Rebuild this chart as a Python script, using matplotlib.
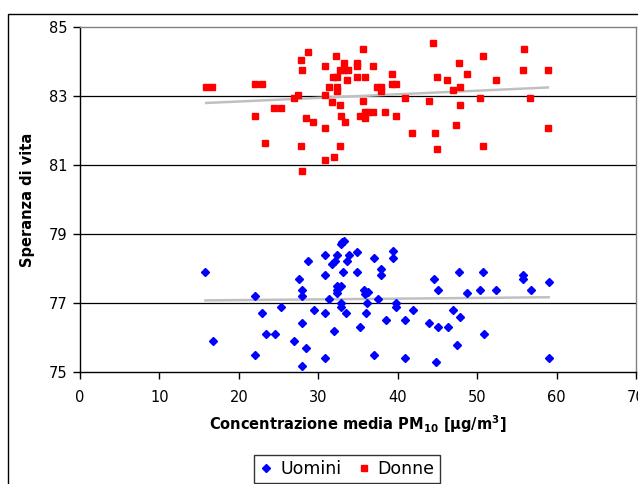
import numpy as np
import matplotlib
matplotlib.use("Agg")
import matplotlib.pyplot as plt
from matplotlib.lines import Line2D
from matplotlib.patches import Rectangle

# ============================================================
# Dati
# ============================================================
donne_x = [15.9, 16.6, 22.0, 22.9, 22.0, 23.3, 24.4, 25.3, 26.9, 27.5,
           27.8, 28.7, 28.0, 27.8, 28.0, 28.4, 29.3, 30.9, 30.9, 30.9,
           30.9, 31.4, 31.7, 31.8, 32.3, 32.2, 32.3, 32.3, 32.7, 31.95,
           32.7, 32.9, 33.4, 33.2, 32.7, 33.2, 33.8, 33.6, 34.9, 34.9,
           34.9, 35.2, 35.6, 35.9, 36.9, 39.3, 39.3, 39.8, 37.4, 37.9,
           37.9, 35.6, 35.9, 35.9, 36.3, 36.9, 38.4, 39.8, 40.9, 41.8,
           43.9, 44.5, 44.7, 45.0, 45.0, 46.2, 46.9, 47.4, 47.7, 47.9,
           47.9, 48.7, 50.3, 50.7, 50.8, 52.4, 55.8, 55.9, 56.7, 58.9,
           58.9]
donne_y = [83.26, 83.26, 83.35, 83.35, 82.43, 81.64, 82.65, 82.65, 82.94, 83.04,
           84.05, 84.27, 83.76, 81.55, 80.82, 82.35, 82.25, 83.86, 83.04, 82.06,
           81.14, 83.26, 82.84, 83.55, 83.55, 84.15, 83.26, 83.15, 81.55, 81.24,
           82.74, 82.43, 82.25, 83.95, 83.76, 83.76, 83.76, 83.45, 83.95, 83.86,
           83.55, 82.43, 84.36, 83.55, 83.86, 83.63, 83.35, 83.35, 83.26, 83.26,
           83.15, 82.85, 82.53, 82.35, 82.53, 82.53, 82.53, 82.43, 82.94, 81.93,
           82.85, 84.55, 81.93, 81.45, 83.55, 83.45, 83.17, 82.15, 83.95, 83.26,
           82.74, 83.63, 82.94, 84.15, 81.55, 83.45, 83.76, 84.36, 82.94, 83.76,
           82.06]

uomini_x = [15.8, 16.7, 22.0, 22.0, 22.96, 23.4, 24.5, 25.3, 27.0, 27.6,
            27.9, 28.0, 27.9, 28.0, 28.4, 28.7, 29.4, 30.9, 30.9, 30.9,
            30.9, 31.4, 31.7, 32.1, 32.3, 32.0, 32.4, 32.4, 32.4, 32.9,
            32.8, 32.8, 32.8, 33.0, 33.2, 33.1, 33.5, 33.6, 33.9, 34.9,
            34.9, 35.2, 35.7, 36.3, 35.9, 36.1, 36.0, 37.0, 37.0, 37.5,
            37.9, 37.9, 38.5, 39.4, 39.4, 39.8, 39.8, 40.9, 40.9, 41.9,
            43.9, 44.6, 45.1, 44.8, 45.1, 46.3, 46.9, 47.7, 47.9, 47.5,
            48.7, 50.4, 50.8, 50.9, 52.4, 55.8, 55.8, 56.8, 59.0, 59.0]
uomini_y = [77.90, 75.91, 77.20, 75.49, 76.70, 76.10, 76.10, 76.88, 75.91, 77.70,
            77.39, 77.20, 76.41, 75.17, 75.69, 78.22, 76.79, 78.40, 77.80, 76.70,
            75.41, 77.12, 78.13, 78.22, 78.40, 76.19, 77.48, 77.38, 77.29, 77.48,
            77.00, 76.88, 78.72, 78.77, 78.81, 77.90, 76.70, 78.22, 78.40, 78.49,
            77.90, 76.29, 77.38, 77.31, 77.25, 77.01, 76.70, 78.30, 75.49, 77.11,
            78.00, 77.80, 76.51, 78.50, 78.30, 77.00, 76.88, 76.51, 75.40, 76.79,
            76.41, 77.70, 77.39, 75.30, 76.29, 76.29, 76.79, 77.90, 76.60, 75.78,
            77.30, 77.39, 77.90, 76.10, 77.39, 77.80, 77.70, 77.39, 77.62, 75.40]

x_ticks = [0, 10, 20, 30, 40, 50, 60, 70]
y_ticks = [75, 77, 79, 81, 83, 85]


def trend(ax, xs, ys):
    xs = np.asarray(xs)
    ys = np.asarray(ys)
    m, q = np.polyfit(xs, ys, 1)
    xx = np.array([xs.min(), xs.max()])
    ax.plot(xx, m * xx + q, color="#c0c0c0", lw=1.8, zorder=2)


plt.rcParams["font.family"] = ["DejaVu Sans"]

fig = plt.figure(figsize=(6.38, 4.84), dpi=100)
ax = fig.add_axes([80 / 638, 1 - 372 / 484, 556 / 638, 345 / 484])

# bordo esterno dell'area del grafico
fig.patches.append(Rectangle((8 / 638, -0.1), 1.2, 1 - 14 / 484 + 0.1,
                             transform=fig.transFigure, fill=False,
                             edgecolor="black", lw=1.0))

for yv in y_ticks[1:-1]:
    ax.axhline(yv, color="black", lw=0.9, zorder=1)

trend(ax, uomini_x, uomini_y)
trend(ax, donne_x, donne_y)

ax.plot(uomini_x, uomini_y, "D", color="#0000ff", ms=4.2, mec="#0000ff", zorder=3)
ax.plot(donne_x, donne_y, "s", color="#ff0000", ms=4.3, mec="#ff0000", zorder=3)

ax.set_xlim(0, 70)
ax.set_ylim(75, 85)
ax.set_xticks(x_ticks)
ax.set_yticks(y_ticks)
ax.tick_params(direction="out", length=5, width=1, labelsize=10.5, color="black")
ax.tick_params(axis="y", pad=4)
ax.tick_params(axis="x", pad=8)

ax.spines["left"].set_color("black")
ax.spines["bottom"].set_color("black")
ax.spines["top"].set_color("#808080")
ax.spines["right"].set_color("#808080")
for s in ax.spines.values():
    s.set_linewidth(1.0)

ax.set_xlabel("Concentrazione media PM$_{\\mathbf{10}}$ [µg/m$^{\\mathbf{3}}$]",
              fontsize=10.5, fontweight="bold", labelpad=6)
ax.set_ylabel("Speranza di vita", fontsize=10.5, fontweight="bold", labelpad=10)

handles = [Line2D([], [], ls="", marker="D", color="#0000ff", ms=4),
           Line2D([], [], ls="", marker="s", color="#ff0000", ms=4)]
leg = fig.legend(handles, ["Uomini", "Donne"], loc="upper center",
                 bbox_to_anchor=(347 / 638, 1 - 455 / 484), ncol=2,
                 fontsize=12.5, frameon=True, fancybox=False,
                 handlelength=0.8, handletextpad=0.4, columnspacing=0.9,
                 borderpad=0.3, borderaxespad=0)
leg.get_frame().set_edgecolor("black")
leg.get_frame().set_linewidth(1.0)

fig.savefig("out.png", dpi=100)
